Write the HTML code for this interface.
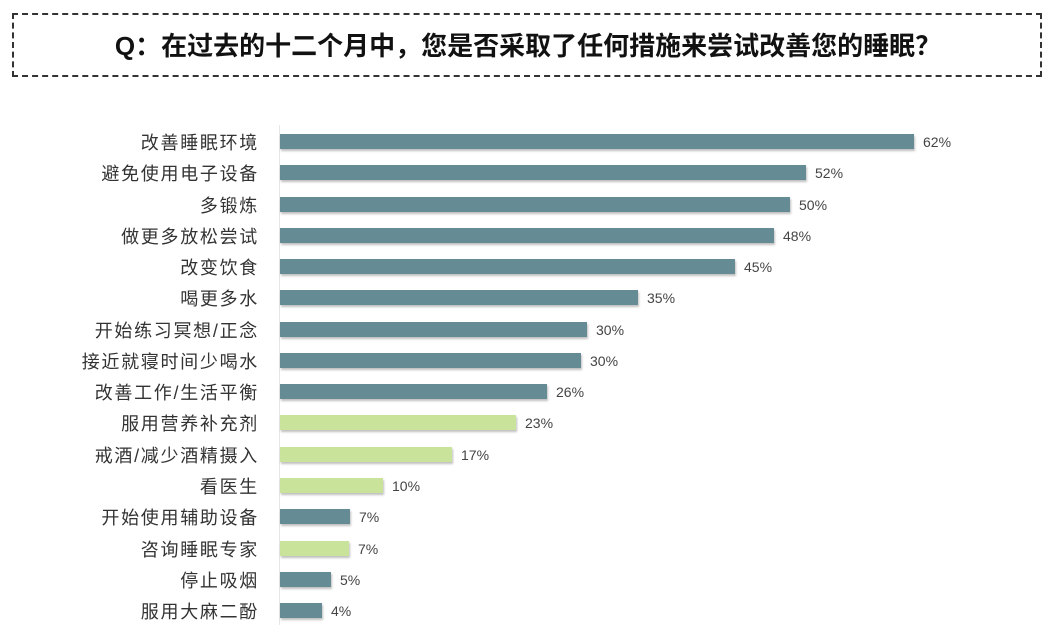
<!DOCTYPE html>
<html><head><meta charset="utf-8"><style>
body{margin:0;width:1056px;height:641px;background:#fff;position:relative;overflow:hidden;font-family:"Liberation Sans","Noto Sans CJK SC",sans-serif;}
.box{position:absolute;left:12px;top:13px;width:1030px;height:64px;border:2px dashed #333;box-sizing:border-box;}
.title{position:absolute;left:0;width:1056px;top:29px;text-align:center;font-size:26px;font-weight:bold;color:#111;line-height:34px;}
.axis{position:absolute;left:279px;top:125px;width:1px;height:500px;background:#e6e6e6;}
.lab{position:absolute;right:797px;font-size:18px;letter-spacing:1.7px;color:#333;line-height:22px;white-space:nowrap;}
.bar{position:absolute;left:280px;height:15px;background:#658b95;box-shadow:1px 2px 2px rgba(0,0,0,0.25);}
.g{background:#c9e39b;}
.val{position:absolute;font-size:14px;color:#444;line-height:16px;}
</style></head><body>
<div class="box"></div>
<div class="title">Q：在过去的十二个月中，您是否采取了任何措施来尝试改善您的睡眠？</div>
<div class="axis"></div>
<div id="c"></div>
<script>
var d=[["改善睡眠环境",914,"62%",0],["避免使用电子设备",806,"52%",0],["多锻炼",790,"50%",0],["做更多放松尝试",774,"48%",0],["改变饮食",735,"45%",0],["喝更多水",638,"35%",0],["开始练习冥想/正念",587,"30%",0],["接近就寝时间少喝水",581,"30%",0],["改善工作/生活平衡",547,"26%",0],["服用营养补充剂",516,"23%",1],["戒酒/减少酒精摄入",452,"17%",1],["看医生",383,"10%",1],["开始使用辅助设备",350,"7%",0],["咨询睡眠专家",349,"7%",1],["停止吸烟",331,"5%",0],["服用大麻二酚",322,"4%",0]];
var h="";
d.forEach(function(r,i){var y=142+i*31.27;
h+='<div class="lab" style="top:'+(y-10)+'px">'+r[0]+'</div>';
h+='<div class="bar'+(r[3]?' g':'')+'" style="top:'+(y-8)+'px;width:'+(r[1]-280)+'px"></div>';
h+='<div class="val" style="left:'+(r[1]+9)+'px;top:'+(y-8)+'px">'+r[2]+'</div>';});
document.getElementById("c").innerHTML=h;
</script>
</body></html>
